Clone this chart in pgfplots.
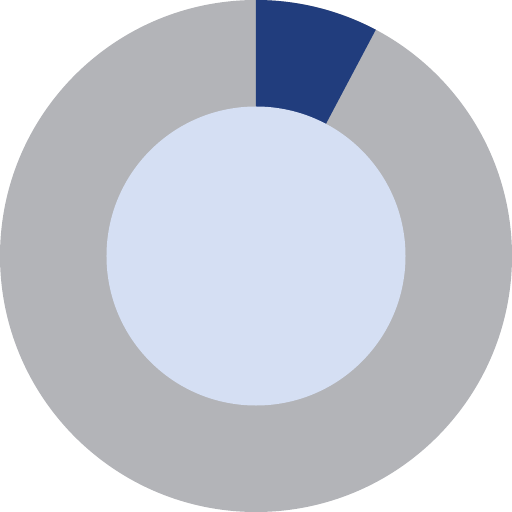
\documentclass[border=0pt]{standalone}
\usepackage{pgfplots}
\pgfplotsset{compat=1.18}
\definecolor{ringgray}{HTML}{B3B4B8}
\definecolor{ringblue}{HTML}{213D7D}
\definecolor{holefill}{HTML}{D5DFF3}
\begin{document}
\begin{tikzpicture}
% share of the blue segment, in percent
\pgfmathsetmacro{\share}{7.75}
\pgfmathsetmacro{\endang}{90-3.6*\share}
\begin{axis}[
    x=3cm, y=3cm,
    xmin=-1, xmax=1, ymin=-1, ymax=1,
    hide axis,
    clip=false,
]
\addplot[draw=none, forget plot] coordinates {(-1,-1)(1,1)};
\fill[ringgray] (axis cs:0,0) circle[radius=3cm];
\fill[ringblue] (axis cs:0,0) -- (axis cs:0,1)
  arc[start angle=90, end angle=\endang, radius=3cm] -- cycle;
\fill[holefill] (axis cs:0,0) circle[radius=1.752cm];
\end{axis}
\end{tikzpicture}
\end{document}
